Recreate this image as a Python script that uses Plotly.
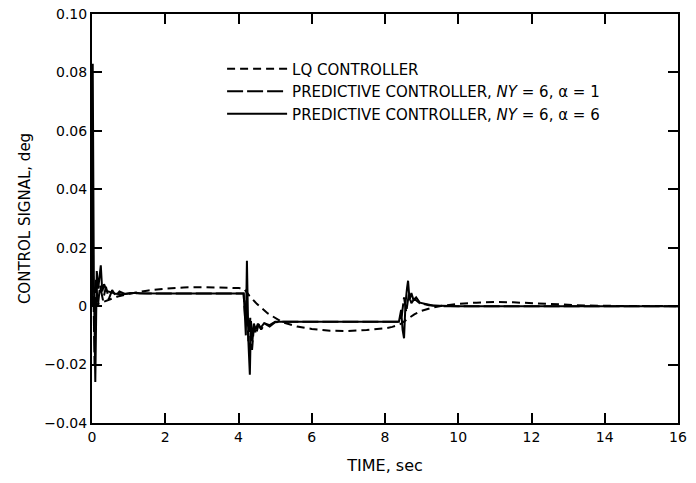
import plotly.graph_objects as go

# ---- data ----
lq_t = [0, 0.1, 0.2, 0.3, 0.5, 0.7, 1.0, 1.5, 2.0, 2.5, 3.0, 3.5, 4.0, 4.15, 4.3, 4.5,
        4.8, 5.2, 5.6, 6.0, 6.5, 7.0, 7.5, 8.0, 8.2, 8.4, 8.6, 8.8, 9.0, 9.3, 9.6, 10.0,
        10.5, 11.0, 11.5, 12.0, 12.5, 13.0, 13.5, 14.0, 15.0, 16.0]
lq_u = [0, 0.0005, 0.001, 0.0015, 0.0025, 0.0033, 0.0042, 0.0053, 0.006, 0.0064, 0.0065,
        0.0064, 0.0062, 0.006, 0.0035, 0.0008, -0.0025, -0.0055, -0.007, -0.0078, -0.0084,
        -0.0085, -0.0082, -0.0076, -0.0071, -0.0063, -0.0045, -0.0028, -0.0016, -0.0005,
        0.0002, 0.0008, 0.0012, 0.0014, 0.0013, 0.001, 0.0007, 0.0004, 0.0002, 0.0001, 0, 0]

p1_t = [0, 0.03, 0.07, 0.11, 0.16, 0.22, 0.3, 0.38, 0.46, 0.55, 0.65, 0.75, 0.9, 1.1, 1.5,
        2.0, 3.0, 4.0, 4.14, 4.18, 4.22, 4.27, 4.32, 4.37, 4.42, 4.48, 4.55, 4.62, 4.72, 4.85,
        5.0, 5.3, 6.0, 7.0, 8.0, 8.4, 8.46, 8.52, 8.58, 8.65, 8.72, 8.8, 8.95, 9.2, 9.5, 10.0,
        12.0, 14.0, 16.0]
p1_u = [0, 0.012, -0.02, 0.009, 0.0, 0.007, 0.002, 0.0066, 0.0025, 0.0055, 0.0035, 0.005,
        0.0042, 0.0045, 0.0043, 0.0043, 0.0043, 0.0043, 0.0043, -0.004, 0.002, -0.012, -0.004,
        -0.015, -0.007, -0.0095, -0.0062, -0.008, -0.006, -0.007, -0.0055, -0.0053, -0.0053,
        -0.0053, -0.0053, -0.0053, -0.003, 0.003, -0.002, 0.004, 0.001, 0.0025, 0.001, 0.0003,
        0.0, 0.0, 0.0, 0.0, 0.0]

p6_t = [0, 0.02, 0.05, 0.09, 0.13, 0.17, 0.21, 0.24, 0.28, 0.33, 0.4, 0.5, 0.65, 0.8, 1.0,
        1.2, 1.3, 1.5, 2.0, 3.0, 4.0, 4.14, 4.17, 4.2, 4.23, 4.27, 4.31, 4.34, 4.38, 4.42, 4.47,
        4.53, 4.6, 4.7, 4.85, 5.0, 5.5, 6.0, 7.0, 8.0, 8.38, 8.44, 8.48, 8.52, 8.56, 8.6, 8.63,
        8.67, 8.72, 8.78, 8.85, 8.95, 9.1, 9.3, 10.0, 12.0, 14.0, 16.0]
p6_u = [0, 0.083, 0.01, -0.026, 0.012, 0.006, 0.0105, 0.014, 0.005, 0.0075, 0.0052, 0.0048,
        0.0042, 0.0041, 0.0043, 0.0046, 0.0044, 0.0043, 0.0043, 0.0043, 0.0043, 0.0043, -0.002,
        -0.01, 0.0155, -0.012, -0.0235, -0.005, -0.012, -0.006, -0.008, -0.006, -0.0075,
        -0.0058, -0.0065, -0.0053, -0.0053, -0.0053, -0.0053, -0.0053, -0.0053, -0.0013, -0.008,
        -0.011, 0.001, 0.006, 0.0087, 0.002, 0.0045, 0.002, 0.003, 0.0012, 0.0008, 0.0002, 0.0,
        0.0, 0.0, 0.0]

x_ticks = [0, 2, 4, 6, 8, 10, 12, 14, 16]
y_ticks = [-0.04, -0.02, 0, 0.02, 0.04, 0.06, 0.08, 0.10]
y_labels = ["\u22120.04", "\u22120.02", "0", "0.02", "0.04", "0.06", "0.08", "0.10"]

FONT = "DejaVu Sans, Liberation Sans, sans-serif"

fig = go.Figure()
fig.add_trace(go.Scatter(x=lq_t, y=lq_u, mode="lines", name="LQ CONTROLLER",
                         line=dict(color="black", width=2, dash="8px,5px")))
fig.add_trace(go.Scatter(x=p1_t, y=p1_u, mode="lines",
                         name="PREDICTIVE CONTROLLER, <i>NY</i> = 6, \u03b1 = 1",
                         line=dict(color="black", width=2, dash="16px,4px")))
fig.add_trace(go.Scatter(x=p6_t, y=p6_u, mode="lines",
                         name="PREDICTIVE CONTROLLER, <i>NY</i> = 6, \u03b1 = 6",
                         line=dict(color="black", width=2)))

axis_common = dict(showline=True, linecolor="black", linewidth=2, mirror="ticks",
                   ticks="inside", ticklen=10, tickwidth=2, tickcolor="black",
                   showgrid=False, zeroline=False, ticklabeloverflow="allow")

fig.update_xaxes(range=[0, 16], tickvals=x_ticks, ticktext=[str(v) for v in x_ticks],
                 tickfont=dict(family=FONT, size=14, color="black"),
                 title=dict(text="TIME, sec", font=dict(family=FONT, size=16, color="black"),
                            standoff=16),
                 **axis_common)
fig.update_yaxes(range=[-0.04, 0.10], tickvals=y_ticks, ticktext=y_labels,
                 tickfont=dict(family=FONT, size=14, color="black"),
                 title=dict(text="CONTROL SIGNAL, deg",
                            font=dict(family=FONT, size=15, color="black"), standoff=10),
                 **axis_common)

fig.update_layout(
    width=696, height=483,
    margin=dict(l=92, r=18, t=6, b=60),
    paper_bgcolor="white", plot_bgcolor="white",
    font=dict(family=FONT, size=14, color="black"),
    showlegend=True,
    legend=dict(x=0.222, y=0.906, xanchor="left", yanchor="top", itemwidth=60,
                bgcolor="rgba(0,0,0,0)", borderwidth=0, tracegroupgap=0,
                font=dict(family=FONT, size=15, color="black")),
)

fig.write_html("out.html")
